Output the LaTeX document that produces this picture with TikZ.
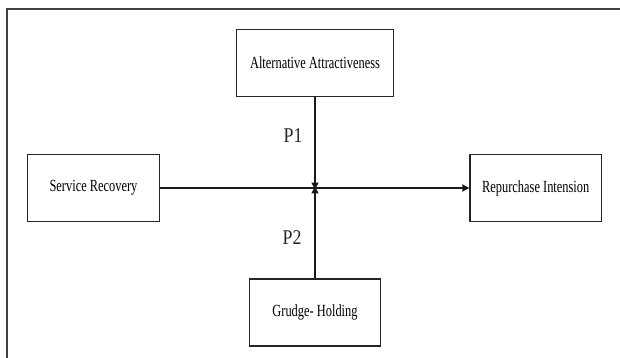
\documentclass[tikz,border=0pt]{standalone}
\usepackage{fontspec}
\setmainfont{Liberation Serif}
\usetikzlibrary{arrows.meta,calc}
\newcommand{\narrowtext}[1]{\scalebox{0.73}[1]{#1}}
\begin{document}
\begin{tikzpicture}[x=1pt,y=-1pt,
  box/.style={draw=black!85,line width=1.2pt,minimum width=#1,minimum height=67pt,inner sep=0pt,
    font=\fontsize{17}{20}\selectfont},
  box/.default=131.5pt,
  link/.style={draw=black!90,line width=#1,-{Triangle[length=7pt,width=7pt]}},
  link/.default=1.2pt,
  plab/.style={font=\fontsize{21}{24}\selectfont,inner sep=0pt,text=black!85}]
\useasboundingbox (0,0) rectangle (620,358);
% open frame
\draw[black!75,line width=2pt] (7,358) -- (7,9) -- (620,9);
\node[box=156.3pt] (aa) at (315,63) {\narrowtext{Alternative Attractiveness}};
\node[box] (sr) at (93.5,188) {\narrowtext{Service Recovery}};
\node[box] (ri) at (535.7,188) {\narrowtext{Repurchase Intension}};
\node[box] (gh) at (315,312.5) {\narrowtext{Grudge- Holding}};
\coordinate (m) at (aa.south |- sr.east);
\draw[link=2.2pt] (sr) -- (ri);
\draw[link] (aa) -- ([yshift=-1.6pt]m);
\draw[link] (gh) -- ([yshift=1.6pt]m);
\node[plab] (p1) at (293,135.5) {\scalebox{0.85}[1]{P1}};
\node[plab] (p2) at (292,237.5) {\scalebox{0.85}[1]{P2}};
\end{tikzpicture}
\end{document}
